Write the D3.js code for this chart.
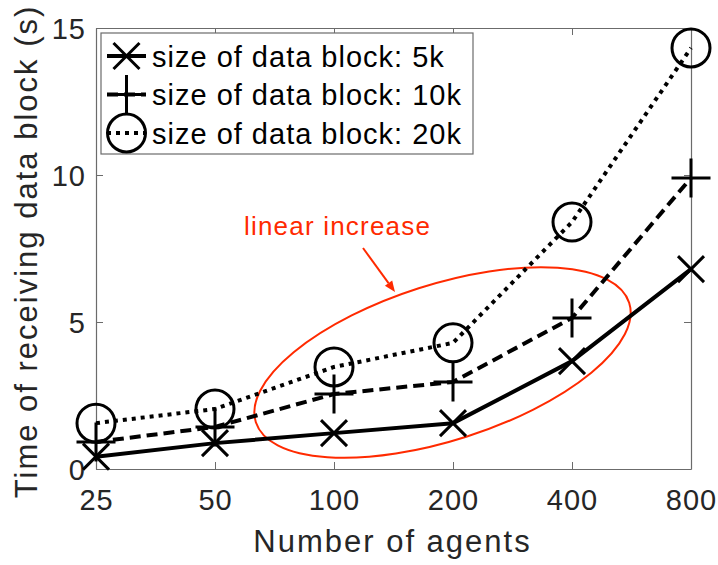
<!DOCTYPE html>
<html>
<head>
<meta charset="utf-8">
<script src="https://cdn.jsdelivr.net/npm/d3@7/dist/d3.min.js"></script>
<style>
  html, body { margin: 0; padding: 0; background: #fff; }
  svg { display: block; }
  text { font-family: "Liberation Sans", Arial, Helvetica, sans-serif; }
</style>
</head>
<body>
<svg id="chart" width="718" height="565"></svg>
<script>
// ---- data ----
const categories = ["25", "50", "100", "200", "400", "800"];
const series5k  = [0.42, 0.88, 1.22, 1.56, 3.67, 6.80];
const series10k = [0.92, 1.43, 2.55, 2.96, 5.14, 9.90];
const series20k = [1.56, 2.04, 3.47, 4.29, 8.40, 14.32];
const yTicks = [0, 5, 10, 15];
const legendLabels = ["size of data block: 5k", "size of data block: 10k", "size of data block: 20k"];
const xLabel = "Number of agents";
const yLabel = "Time of receiving data block (s)";
const annotationText = "linear increase";

// ---- layout ----
const svg = d3.select("#chart");
const L = 96, R = 691, T = 28, B = 469;
const x = d3.scalePoint().domain(categories).range([L, R]).padding(0);
const y = d3.scaleLinear().domain([0, 15]).range([B, T]);
const axisColor = "#6b6b6b";
const textColor = "#262626";
const red = "#ff2a00";

// axes box
const gx = svg.append("g").attr("transform", `translate(0,${B})`)
  .call(d3.axisBottom(x).tickSizeInner(-7).tickSizeOuter(0));
gx.selectAll("text").attr("y", 41).attr("dy", null)
  .attr("font-size", 29).attr("letter-spacing", 1).attr("fill", textColor);
const gxt = svg.append("g").attr("transform", `translate(0,${T})`)
  .call(d3.axisTop(x).tickSizeInner(-7).tickSizeOuter(0).tickFormat(""));
const gy = svg.append("g").attr("transform", `translate(${L},0)`)
  .call(d3.axisLeft(y).tickValues(yTicks).tickSizeInner(-7).tickSizeOuter(0).tickFormat(d3.format("d")));
gy.selectAll("text").attr("x", -10).attr("dy", "0.36em")
  .attr("font-size", 29).attr("letter-spacing", 1).attr("fill", textColor);
const gyr = svg.append("g").attr("transform", `translate(${R},0)`)
  .call(d3.axisRight(y).tickValues(yTicks).tickSizeInner(-7).tickSizeOuter(0).tickFormat(""));
[gx, gxt, gy, gyr].forEach(g => {
  g.select(".domain").attr("stroke", axisColor).attr("stroke-width", 1.2);
  g.selectAll(".tick line").attr("stroke", axisColor).attr("stroke-width", 1);
});

// axis labels
svg.append("text").attr("x", (L + R) / 2 - 1).attr("y", 552)
  .attr("text-anchor", "middle").attr("font-size", 31).attr("letter-spacing", 2)
  .attr("fill", textColor).text(xLabel);
svg.append("text").attr("transform", `translate(37,${(T + B) / 2 + 3}) rotate(-90)`)
  .attr("text-anchor", "middle").attr("font-size", 31).attr("letter-spacing", 2)
  .attr("fill", textColor).text(yLabel);

// annotation: ellipse, arrow, text
svg.append("ellipse").attr("cx", 442.5).attr("cy", 362.5).attr("rx", 196).attr("ry", 78)
  .attr("transform", "rotate(-17.76,442.5,362.5)")
  .attr("fill", "none").attr("stroke", red).attr("stroke-width", 2);
const ax0 = [363, 248], ax1 = [395, 292];
const ang = Math.atan2(ax1[1] - ax0[1], ax1[0] - ax0[0]);
const hl = 11, hw = 4.5;
const bx = ax1[0] - hl * Math.cos(ang), by = ax1[1] - hl * Math.sin(ang);
svg.append("line").attr("x1", ax0[0]).attr("y1", ax0[1]).attr("x2", bx).attr("y2", by)
  .attr("stroke", red).attr("stroke-width", 2);
svg.append("path")
  .attr("d", `M${ax1[0]},${ax1[1]} L${bx - hw * Math.sin(ang)},${by + hw * Math.cos(ang)} L${bx + hw * Math.sin(ang)},${by - hw * Math.cos(ang)} Z`)
  .attr("fill", red);
svg.append("text").attr("x", 244).attr("y", 235).attr("font-size", 26).attr("letter-spacing", 1.2)
  .attr("fill", red).text(annotationText);

// ---- series ----
function markerPath(type, cx, cy) {
  if (type === "x") { const s = 13; return `M${cx - s},${cy - s}L${cx + s},${cy + s}M${cx - s},${cy + s}L${cx + s},${cy - s}`; }
  if (type === "plus") { const s = 19.5; return `M${cx - s},${cy}L${cx + s},${cy}M${cx},${cy - s}L${cx},${cy + s}`; }
  const r = 19; return `M${cx + r},${cy}A${r},${r} 0 1,1 ${cx - r},${cy}A${r},${r} 0 1,1 ${cx + r},${cy}Z`;
}
const seriesDefs = [
  { values: series5k, marker: "x", dash: null, width: 4 },
  { values: series10k, marker: "plus", dash: "11 6", width: 4 },
  { values: series20k, marker: "circle", dash: "4 5", width: 4 }
];
const lineGen = d3.line().x((d, i) => x(categories[i])).y(d => y(d));
seriesDefs.forEach(s => {
  const g = svg.append("g");
  g.append("path").attr("d", lineGen(s.values)).attr("fill", "none")
    .attr("stroke", "#000").attr("stroke-width", s.width)
    .attr("stroke-dasharray", s.dash).attr("stroke-linejoin", "round");
  g.selectAll("path.m").data(s.values).enter().append("path").attr("class", "m")
    .attr("d", (d, i) => markerPath(s.marker, x(categories[i]), y(d)))
    .attr("fill", "none").attr("stroke", "#000").attr("stroke-width", 3);
});

// ---- legend ----
const lg = svg.append("g");
lg.append("rect").attr("x", 101).attr("y", 33).attr("width", 372).attr("height", 121)
  .attr("fill", "#fff").attr("stroke", axisColor).attr("stroke-width", 1.2);
const rowY = [56, 94.5, 133];
seriesDefs.forEach((s, i) => {
  lg.append("line").attr("x1", 107).attr("x2", 146).attr("y1", rowY[i]).attr("y2", rowY[i])
    .attr("stroke", "#000").attr("stroke-width", s.width).attr("stroke-dasharray", s.dash);
  lg.append("path").attr("d", markerPath(s.marker, 126.5, rowY[i]))
    .attr("fill", "none").attr("stroke", "#000").attr("stroke-width", 3);
  lg.append("text").attr("x", 152).attr("y", rowY[i] + 10.5).attr("font-size", 29)
    .attr("letter-spacing", 1).attr("fill", "#000").text(legendLabels[i]);
});
</script>
</body>
</html>
